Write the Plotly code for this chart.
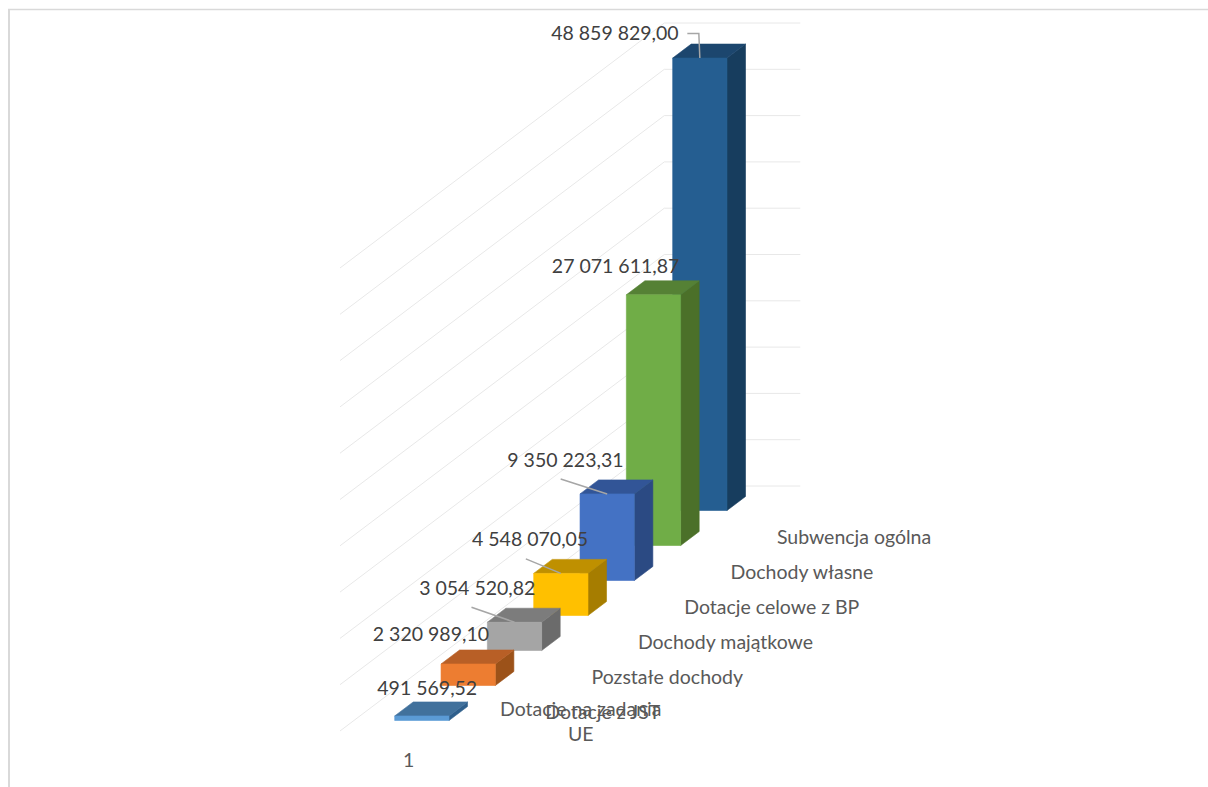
import plotly.graph_objects as go

# ---- data ----
categories = ["UE", "Dotacje z JST", "Pozstałe dochody", "Dochody majątkowe",
              "Dotacje celowe z BP", "Dochody własne", "Subwencja ogólna"]
axis_categories = ["Dotacje na zadania<br>UE", "Dotacje z JST", "Pozstałe dochody", "Dochody majątkowe",
                   "Dotacje celowe z BP", "Dochody własne", "Subwencja ogólna"]
values = [491569.52, 2320989.10, 3054520.82, 4548070.05, 9350223.31, 27071611.87, 48859829.00]
value_labels = ["491 569,52", "2 320 989,10", "3 054 520,82", "4 548 070,05",
                "9 350 223,31", "27 071 611,87", "48 859 829,00"]
grid_values = [0, 5e6, 1e7, 1.5e7, 2e7, 2.5e7, 3e7, 3.5e7, 4e7, 4.5e7, 5e7]
group_label = "1"

# ---- colours ----
front = ["#5B9BD5", "#ED7D31", "#A5A5A5", "#FFC000", "#4472C4", "#70AD47", "#255E91"]
top = ["#41719C", "#B85F26", "#7C7C7C", "#BF9000", "#325597", "#558135", "#1C466E"]
side = ["#2F5F8C", "#9C5219", "#6B6B6B", "#A67D00", "#2B4A83", "#4B7029", "#173D5E"]

# ---- oblique projection (floor origin, pixels per unit) ----
ORIGIN_X, ORIGIN_Y = 340.0, 731.0
DEPTH_DX, DEPTH_DY = 46.33, 35.0
PX_PER_VALUE = 9.26e-6
WALL_W = 136.0
BAR_U0, BAR_W = 40.8, 54.3
BAR_D0, BAR_D = 0.3, 0.4


def project(u, d, v):
    return ORIGIN_X + d * DEPTH_DX + u, ORIGIN_Y - d * DEPTH_DY - v * PX_PER_VALUE


def poly(points, color):
    xs, ys = zip(*[project(*p) for p in points])
    return go.Scatter(x=list(xs) + [xs[0]], y=list(ys) + [ys[0]], mode="lines", fill="toself",
                      fillcolor=color, line=dict(color=color, width=0.6),
                      hoverinfo="skip", showlegend=False)


fig = go.Figure()
n = len(categories)

# gridlines: side wall + back wall
gx, gy = [], []
for g in grid_values[1:] + [grid_values[0]]:
    for p in [(0, 0, g), (0, n, g), (WALL_W, n, g)]:
        x, y = project(*p)
        gx.append(x)
        gy.append(y)
    gx.append(None)
    gy.append(None)
fig.add_trace(go.Scatter(x=gx, y=gy, mode="lines", line=dict(color="#E8E8E8", width=1),
                         hoverinfo="skip", showlegend=False))

# bars from back to front
for i in range(n - 1, -1, -1):
    v = values[i]
    u0, u1 = BAR_U0, BAR_U0 + BAR_W
    d0, d1 = i + BAR_D0, i + BAR_D0 + BAR_D
    fig.add_trace(poly([(u1, d0, 0), (u1, d1, 0), (u1, d1, v), (u1, d0, v)], side[i]))
    fig.add_trace(poly([(u0, d0, v), (u1, d0, v), (u1, d1, v), (u0, d1, v)], top[i]))
    fig.add_trace(poly([(u0, d0, 0), (u1, d0, 0), (u1, d0, v), (u0, d0, v)], front[i]))

# leader lines: pixel offsets of each line start from the bar's front-top centre
leaders = {2: [(-43, -15)], 3: [(-35, -14.5)], 4: [(-46.5, -15)], 6: [(-12.5, -24.5), (-1, -24.5)]}
for i, offs in leaders.items():
    ax, ay = project(BAR_U0 + BAR_W / 2, i + BAR_D0, values[i])
    xs = [ax + o[0] for o in offs] + [ax]
    ys = [ay + o[1] for o in offs] + [ay]
    fig.add_trace(go.Scatter(x=xs, y=ys, mode="lines", line=dict(color="#A6A6A6", width=1.5),
                             hoverinfo="skip", showlegend=False))

FONT = "Lato, Carlito, Calibri, sans-serif"
LABEL_SIZE = 19.5

# value labels, placed by right edge relative to the bar's front-top-left corner
label_dx = [82.5, 48, 48, 54.5, 43.5, 53, 6]
label_dy = [-26, -28, -32, -32, -32, -27, -23]
lx, ly = [], []
for i in range(n):
    x, y = project(BAR_U0, i + BAR_D0, values[i])
    lx.append(x + label_dx[i])
    ly.append(y + label_dy[i])
fig.add_trace(go.Scatter(x=lx, y=ly, mode="text", text=value_labels, textposition="middle left",
                         textfont=dict(family=FONT, size=LABEL_SIZE, color="#404040"),
                         hoverinfo="skip", showlegend=False))

# category labels along the depth axis
cx, cy = [], []
for i in range(1, n):
    x, y = project(WALL_W, i + BAR_D0, 0)
    cx.append(x + 9)
    cy.append(y + 29)
fig.add_trace(go.Scatter(x=cx, y=cy, mode="text", text=axis_categories[1:], textposition="middle right",
                         textfont=dict(family=FONT, size=LABEL_SIZE, color="#595959"),
                         hoverinfo="skip", showlegend=False))
x0, y0 = project(WALL_W, BAR_D0, 0)
fig.add_annotation(x=x0 + 91, y=y0 + 0, text=axis_categories[0], showarrow=False, xref="x", yref="y",
                   yanchor="middle", xanchor="center", align="center",
                   font=dict(family=FONT, size=LABEL_SIZE, color="#595959"))
gx0, gy0 = project(BAR_U0 / 3, 0, 0)
fig.add_trace(go.Scatter(x=[gx0 + 55], y=[gy0 + 31], mode="text", text=[group_label], textposition="middle center",
                         textfont=dict(family=FONT, size=LABEL_SIZE, color="#595959"),
                         hoverinfo="skip", showlegend=False))

# chart-area border (only left and top visible in the crop)
fig.add_shape(type="line", xref="paper", yref="paper", x0=9 / 1208, x1=9 / 1208, y0=0, y1=1 - 9.5 / 787,
              line=dict(color="#D9D9D9", width=2))
fig.add_shape(type="line", xref="paper", yref="paper", x0=8 / 1208, x1=1, y0=1 - 9.5 / 787, y1=1 - 9.5 / 787,
              line=dict(color="#D9D9D9", width=1.5))

fig.update_layout(width=1208, height=787, margin=dict(l=0, r=0, t=0, b=0), autosize=False,
                  paper_bgcolor="white", plot_bgcolor="white", showlegend=False, hovermode=False,
                  xaxis=dict(range=[0, 1208], visible=False, fixedrange=True),
                  yaxis=dict(range=[787, 0], visible=False, fixedrange=True))

fig.write_html("out.html", config=dict(displayModeBar=False),
               post_script="document.body.style.margin='0';document.body.style.overflow='hidden';")
